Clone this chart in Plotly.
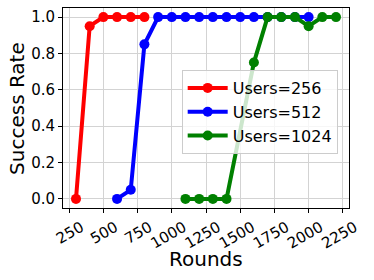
import plotly.graph_objects as go

rounds_256 = [300, 400, 500, 600, 700, 800]
rate_256 = [0.0, 0.95, 1.0, 1.0, 1.0, 1.0]
rounds_512 = [600, 700, 800, 900, 1000, 1100, 1200, 1300, 1400, 1500, 1600, 1700, 1800, 1900, 2000]
rate_512 = [0.0, 0.05, 0.85, 1.0, 1.0, 1.0, 1.0, 1.0, 1.0, 1.0, 1.0, 1.0, 1.0, 1.0, 1.0]
rounds_1024 = [1100, 1200, 1300, 1400, 1600, 1700, 1800, 1900, 2000, 2100, 2200]
rate_1024 = [0.0, 0.0, 0.0, 0.0, 0.75, 1.0, 1.0, 1.0, 0.95, 1.0, 1.0]
x_ticks = [250, 500, 750, 1000, 1250, 1500, 1750, 2000, 2250]
y_ticks = [0.0, 0.2, 0.4, 0.6, 0.8, 1.0]
x_title = "Rounds"
y_title = "Success Rate"

series = [
    ("Users=256", rounds_256, rate_256, "red"),
    ("Users=512", rounds_512, rate_512, "blue"),
    ("Users=1024", rounds_1024, rate_1024, "green"),
]

fig = go.Figure()
for name, xs, ys, c in series:
    fig.add_trace(go.Scatter(x=xs, y=ys, name=name, mode="lines+markers",
                             line=dict(color=c, width=4),
                             marker=dict(color=c, size=10)))

font = "DejaVu Sans"
axis_common = dict(showline=True, linecolor="black", linewidth=1, mirror=True,
                   showgrid=True, gridcolor="#d3d3d3", gridwidth=1,
                   ticks="outside", ticklen=4, tickcolor="black", automargin=False,
                   zeroline=False, tickfont=dict(family=font, size=15, color="black"))

fig.update_layout(
    template="none",
    width=374, height=280,
    margin=dict(l=63, r=25, t=8, b=72),
    paper_bgcolor="white", plot_bgcolor="white",
    font=dict(family=font, color="black"),
    showlegend=True,
    legend=dict(x=0.415, y=0.69, xanchor="left", yanchor="top",
                bgcolor="rgba(255,255,255,0.8)", bordercolor="#cccccc", borderwidth=1,
                font=dict(family=font, size=16, color="black"), itemwidth=40,
                tracegroupgap=2),
    annotations=[
        dict(text=x_title, xref="paper", yref="paper", x=0.5, y=-0.255,
             xanchor="center", yanchor="middle", showarrow=False,
             font=dict(family=font, size=20, color="black")),
        dict(text=y_title, xref="paper", yref="paper", x=-0.161, y=0.5,
             xanchor="center", yanchor="middle", showarrow=False, textangle=-90,
             font=dict(family=font, size=20, color="black")),
    ],
)
fig.update_xaxes(range=[205, 2295], tickvals=x_ticks, ticktext=[str(t) for t in x_ticks],
                 tickangle=-30, ticklabelshift=12,
                 **axis_common)
fig.update_yaxes(range=[-0.05, 1.05], tickvals=y_ticks, ticktext=[f"{t:.1f}" for t in y_ticks],
                 **axis_common)

fig.write_html("out.html", config={"displayModeBar": False},
               post_script="document.body.style.margin='0';")
